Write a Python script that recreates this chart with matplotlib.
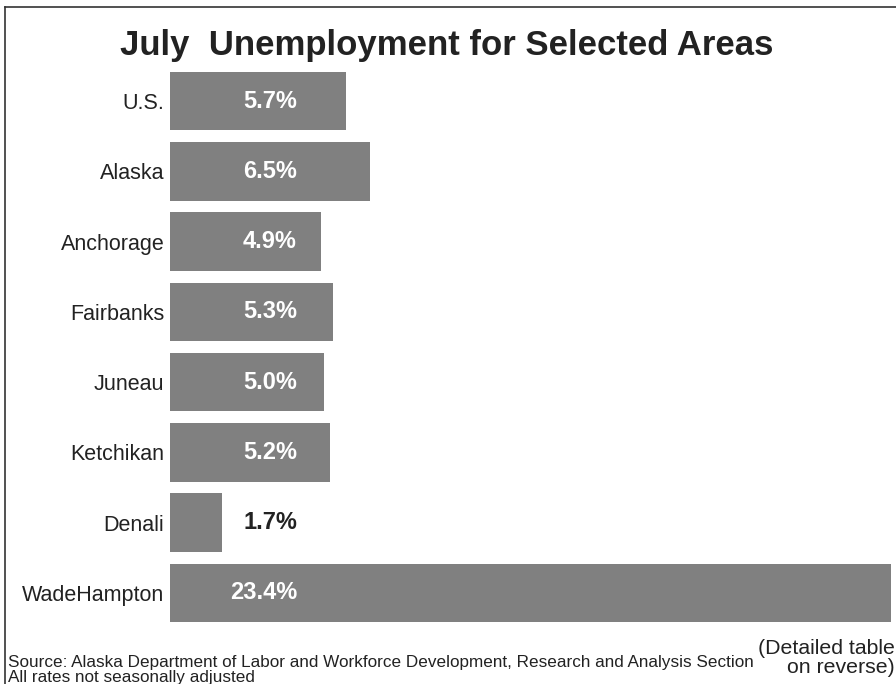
import matplotlib.pyplot as plt
from matplotlib.lines import Line2D

# Datos del gráfico
areas = ['U.S.', 'Alaska', 'Anchorage', 'Fairbanks', 'Juneau', 'Ketchikan', 'Denali', 'WadeHampton']
tasas = [5.7, 6.5, 4.9, 5.3, 5.0, 5.2, 1.7, 23.4]
etiquetas = ['5.7%', '6.5%', '4.9%', '5.3%', '5.0%', '5.2%', '1.7%', '23.4%']

plt.rcParams['font.family'] = ['Liberation Sans', 'DejaVu Sans']

fig = plt.figure(figsize=(8.96, 6.84), dpi=100)
W, H = 896, 684
# ejes en pixeles: x 170..891, y 66..628
ax = fig.add_axes([170 / W, 1 - 628 / H, 721 / W, 562 / H])

pos = list(range(len(areas)))
ax.barh(pos, tasas, height=0.83, color='#808080')
ax.set_xlim(0, 23.4)
ax.set_ylim(len(areas) - 0.5, -0.5)
ax.set_yticks(pos)
ax.set_yticklabels(areas, fontsize=15.5, color='#222222')
ax.tick_params(axis='y', length=0, pad=4)
ax.set_xticks([])
for s in ax.spines.values():
    s.set_visible(False)

# Etiquetas de valor
for i, (v, t) in enumerate(zip(tasas, etiquetas)):
    color = 'white' if v > 4.2 else '#222222'
    ax.text(4.12, i, t, ha='right', va='center', fontsize=17,
            fontweight='bold', color=color)

# Titulo
fig.text(447 / W, 1 - 45 / H, 'July  Unemployment for Selected Areas',
         ha='center', va='center', fontsize=25, fontweight='bold', color='#222222')

# Notas al pie (un solo texto de dos lineas)
fig.text(8 / W, 1 - 670 / H,
         'Source: Alaska Department of Labor and Workforce Development, Research and Analysis Section\n'
         'All rates not seasonally adjusted',
         ha='left', va='center', fontsize=12.3, color='#222222', linespacing=0.95)
fig.text(895 / W, 1 - 658 / H, '(Detailed table\non reverse)', ha='right', va='center',
         fontsize=15.3, color='#222222', linespacing=1.0, multialignment='right')

# Marco
fig.add_artist(Line2D([5 / W, 5 / W], [0, 1 - 7 / H], transform=fig.transFigure,
                      color='#333333', linewidth=1.2))
fig.add_artist(Line2D([5 / W, 1], [1 - 7 / H, 1 - 7 / H], transform=fig.transFigure,
                      color='#333333', linewidth=1.2))

fig.savefig('out.png', dpi=100)
